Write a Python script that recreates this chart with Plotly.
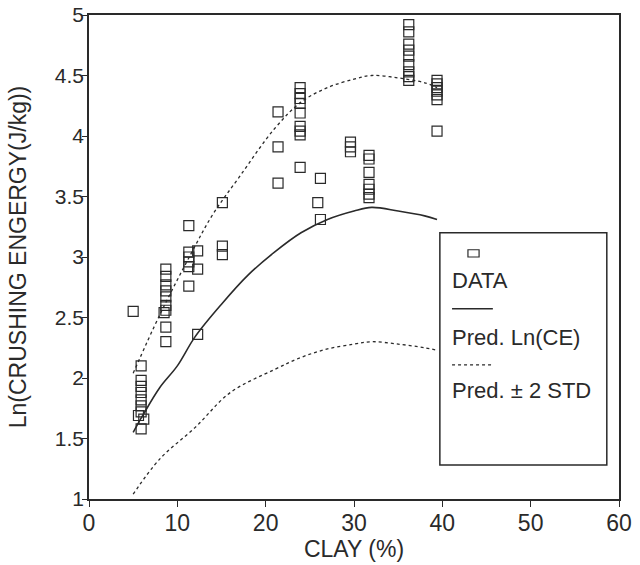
import plotly.graph_objects as go

# Observed data (clay %, ln crushing energy)
clay = [5.0,
        5.9, 5.9, 5.9, 5.9, 5.9, 5.9, 5.9, 5.6, 6.2, 5.9,
        8.7, 8.7, 8.7, 8.7, 8.7, 8.7, 8.7, 8.5, 8.7, 8.7,
        11.3, 11.3, 11.3, 11.3, 11.3, 11.3,
        12.3, 12.3, 12.3,
        15.1, 15.1, 15.1,
        21.4, 21.4, 21.4,
        23.9, 23.9, 23.9, 23.9, 23.9, 23.9, 23.9, 23.9, 23.9,
        26.2, 25.9, 26.2,
        29.6, 29.6, 29.6,
        31.7, 31.7, 31.7, 31.7, 31.7, 31.7, 31.7,
        36.2, 36.2, 36.2, 36.2, 36.2, 36.2, 36.2, 36.2, 36.2,
        39.4, 39.4, 39.4, 39.4, 39.4, 39.4, 39.4]
ln_ce = [2.55,
         2.10, 1.98, 1.93, 1.88, 1.82, 1.77, 1.72, 1.69, 1.66, 1.58,
         2.90, 2.84, 2.77, 2.72, 2.67, 2.60, 2.56, 2.54, 2.42, 2.30,
         3.26, 3.04, 3.00, 2.96, 2.92, 2.76,
         3.05, 2.90, 2.36,
         3.45, 3.09, 3.02,
         4.20, 3.91, 3.61,
         4.40, 4.35, 4.31, 4.27, 4.19, 4.08, 4.04, 4.01, 3.74,
         3.65, 3.45, 3.31,
         3.95, 3.91, 3.87,
         3.84, 3.81, 3.70, 3.60, 3.56, 3.52, 3.49,
         4.92, 4.86, 4.76, 4.71, 4.66, 4.59, 4.53, 4.49, 4.46,
         4.46, 4.43, 4.40, 4.37, 4.34, 4.30, 4.04]

# Predicted curve
pred_x = [5, 6, 8, 10, 12, 15, 18, 21, 24, 27, 30, 32, 35, 38, 39.4]
pred_y = [1.55, 1.68, 1.92, 2.10, 2.34, 2.61, 2.85, 3.04, 3.20, 3.31, 3.38, 3.41, 3.38, 3.34, 3.31]

# Upper band (+2 STD)
up_x = [5, 8, 11.5, 14, 17, 21, 24, 27, 30, 32, 35, 38, 39.4]
up_y = [2.04, 2.52, 3.02, 3.35, 3.66, 4.06, 4.28, 4.40, 4.47, 4.50, 4.48, 4.44, 4.40]

# Lower band (-2 STD)
lo_x = [5, 8, 12, 16, 21, 24, 27, 30, 32, 35, 38, 39.4]
lo_y = [1.04, 1.33, 1.59, 1.88, 2.07, 2.17, 2.24, 2.28, 2.30, 2.28, 2.25, 2.23]

x_ticks = [0, 10, 20, 30, 40, 50, 60]
y_ticks = [1, 1.5, 2, 2.5, 3, 3.5, 4, 4.5, 5]

ink = "#2a2a2a"
font = "Liberation Sans, Arial, sans-serif"

fig = go.Figure()
fig.add_trace(go.Scatter(x=clay, y=ln_ce, mode="markers",
                         marker=dict(symbol="square-open", size=10, color=ink,
                                     line=dict(width=1.2, color=ink)),
                         showlegend=False))
fig.add_trace(go.Scatter(x=pred_x, y=pred_y, mode="lines", line_shape="spline",
                         line=dict(color=ink, width=1.6), showlegend=False))
fig.add_trace(go.Scatter(x=up_x, y=up_y, mode="lines", line_shape="spline",
                         line=dict(color=ink, width=1.3, dash="dot"), showlegend=False))
fig.add_trace(go.Scatter(x=lo_x, y=lo_y, mode="lines", line_shape="spline",
                         line=dict(color=ink, width=1.3, dash="dot"), showlegend=False))

# Custom legend box (symbol above label, as in the reference)
shapes = [
    dict(type="rect", xref="paper", yref="paper", x0=0.662, x1=0.977, y0=0.070, y1=0.550,
         line=dict(color=ink, width=1.5), fillcolor="white", layer="above"),
    dict(type="rect", xref="paper", yref="paper", x0=0.715, x1=0.736, y0=0.500, y1=0.515,
         line=dict(color=ink, width=1.2), layer="above"),
    dict(type="line", xref="paper", yref="paper", x0=0.685, x1=0.762, y0=0.393, y1=0.393,
         line=dict(color=ink, width=1.5), layer="above"),
    dict(type="line", xref="paper", yref="paper", x0=0.685, x1=0.762, y0=0.277, y1=0.277,
         line=dict(color=ink, width=1.2, dash="dot"), layer="above"),
]
legend_labels = [("DATA", 0.452), ("Pred. Ln(CE)", 0.333), ("Pred. \u00b1 2 STD", 0.225)]
annotations = [dict(text=t, xref="paper", yref="paper", x=0.681, y=yy, xanchor="left",
                    yanchor="middle", showarrow=False,
                    font=dict(family=font, size=22, color=ink))
               for t, yy in legend_labels]

fig.update_layout(
    width=640, height=565,
    margin=dict(l=89, r=21, t=15, b=66, autoexpand=False),
    paper_bgcolor="white", plot_bgcolor="white",
    shapes=shapes, annotations=annotations,
    font=dict(family=font, color=ink),
)
fig.update_xaxes(range=[0, 60], tickvals=x_ticks, ticks="outside", ticklen=6, tickwidth=1.2,
                 tickcolor=ink, showline=True, linecolor=ink, linewidth=1.5, mirror=True,
                 showgrid=False, zeroline=False, tickfont=dict(size=23), automargin=False,
                 ticklabelstandoff=-3,
                 title=dict(text="CLAY (%)", font=dict(size=23), standoff=0))
fig.update_yaxes(range=[1, 5], tickvals=y_ticks, ticks="outside", ticklen=5, tickwidth=1.2,
                 tickcolor=ink, showline=True, linecolor=ink, linewidth=1.5, mirror=True,
                 showgrid=False, zeroline=False, tickfont=dict(size=21), automargin=False,
                 ticklabelstandoff=-6,
                 title=dict(text="Ln(CRUSHING ENGERGY(J/kg))", font=dict(size=23), standoff=22))

fig.write_html("out.html", config={"displayModeBar": False},
               post_script="document.body.style.margin='0';document.body.style.overflow='hidden';")
